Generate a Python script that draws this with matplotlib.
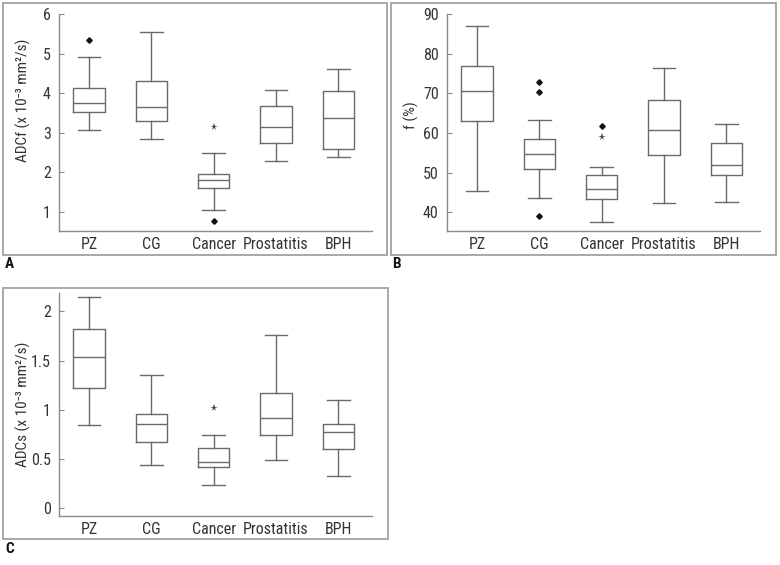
import matplotlib
matplotlib.use("Agg")
import matplotlib.pyplot as plt
from matplotlib.patches import Rectangle
from matplotlib import font_manager

# ---------------- data ----------------
categories = ['PZ', 'CG', 'Cancer', 'Prostatitis', 'BPH']

# Panel A: ADCf
a_whislo = [3.07, 2.84, 1.04, 2.28, 2.38]
a_q1 = [3.52, 3.31, 1.61, 2.73, 2.60]
a_med = [3.74, 3.66, 1.80, 3.14, 3.37]
a_q3 = [4.12, 4.31, 1.97, 3.67, 4.05]
a_whishi = [4.91, 5.55, 2.48, 4.08, 4.61]
a_dot_pos = [1, 3]
a_dot_val = [5.35, 0.78]
a_star_pos = [3]
a_star_val = [3.15]
a_ticks = [1, 2, 3, 4, 5, 6]
a_ylabel = 'ADCf (x 10\u207b\u00b3 mm\u00b2/s)'

# Panel B: f (%)
b_whislo = [45.5, 43.5, 37.6, 42.4, 42.6]
b_q1 = [63.1, 51.0, 43.4, 54.5, 49.3]
b_med = [70.7, 54.8, 45.9, 60.8, 51.9]
b_q3 = [76.8, 58.4, 49.3, 68.2, 57.5]
b_whishi = [87.0, 63.2, 51.4, 76.3, 62.3]
b_dot_pos = [2, 2, 2, 3]
b_dot_val = [72.8, 70.3, 39.1, 61.7]
b_star_pos = [3]
b_star_val = [58.9]
b_ticks = [40, 50, 60, 70, 80, 90]
b_ylabel = 'f (%)'

# Panel C: ADCs
c_whislo = [0.847, 0.444, 0.234, 0.488, 0.329]
c_q1 = [1.224, 0.671, 0.417, 0.742, 0.607]
c_med = [1.536, 0.854, 0.468, 0.919, 0.773]
c_q3 = [1.82, 0.953, 0.617, 1.173, 0.854]
c_whishi = [2.15, 1.356, 0.742, 1.763, 1.098]
c_dot_pos = []
c_dot_val = []
c_star_pos = [3]
c_star_val = [1.017]
c_ticks = [0, 0.5, 1, 1.5, 2]
c_ticklabels = ['0', '0.5', '1', '1.5', '2']
c_ylabel = 'ADCs (x 10\u207b\u00b3 mm\u00b2/s)'

# ---------------- style ----------------
installed = {f.name for f in font_manager.fontManager.ttflist}
fam = [f for f in ['Liberation Sans Narrow', 'Roboto Condensed', 'Roboto',
                   'DejaVu Sans'] if f in installed]
if 'DejaVu Sans' not in fam:
    fam.append('DejaVu Sans')
plt.rcParams['font.family'] = fam

W, H = 780, 565
fig = plt.figure(figsize=(W / 100, H / 100), dpi=100)

LINE = '#6a6a6a'
TXT = '#333333'
TICKSIZE = 11.5
LABELSIZE = 11.0


def fx(px):
    return px / W


def fy(py):
    return 1 - py / H


def panel(rect, whislo, q1, med, q3, whishi, dpos, dval, spos, sval,
          ticks, ylim, ylabel, label_y, ticklabels=None):
    ax = fig.add_axes(rect)
    stats = []
    for i in range(len(categories)):
        stats.append(dict(whislo=whislo[i], q1=q1[i], med=med[i], q3=q3[i],
                          whishi=whishi[i], fliers=[]))
    lp = dict(color=LINE, linewidth=1.0)
    ax.bxp(stats, positions=range(1, len(categories) + 1), widths=0.5,
           capwidths=0.36, showfliers=False,
           boxprops=lp, whiskerprops=lp, capprops=lp,
           medianprops=dict(color=LINE, linewidth=1.0))
    if dpos:
        ax.plot(dpos, dval, linestyle='none', marker='D', markersize=2.8,
                color='#111111')
    if spos:
        ax.plot(spos, sval, linestyle='none', marker='*', markersize=5.5,
                color='#444444', markeredgewidth=0)
    ax.set_xlim(0.52, 5.54)
    ax.set_ylim(*ylim)
    ax.set_xticks(range(1, len(categories) + 1))
    ax.set_xticklabels(categories)
    ax.set_yticks(ticks)
    if ticklabels is not None:
        ax.set_yticklabels(ticklabels)
    for s in ['top', 'right']:
        ax.spines[s].set_visible(False)
    for s in ['left', 'bottom']:
        ax.spines[s].set_color('#8a8a8a')
        ax.spines[s].set_linewidth(1.0)
    ax.tick_params(axis='x', length=0, pad=4, labelsize=TICKSIZE, colors=TXT)
    ax.tick_params(axis='y', direction='in', length=3.5, width=0.8,
                   color='#8a8a8a', pad=6, labelsize=TICKSIZE, labelcolor=TXT)
    ax.set_ylabel(ylabel, fontsize=LABELSIZE, color=TXT)
    ax.yaxis.set_label_coords(-0.088, label_y)
    ax.patch.set_visible(False)
    return ax


# axes rectangles (figure fractions)
axw = fx(372 - 59)
rA = [fx(59), fy(231), axw, (231 - 14) / H]
rB = [fx(447), fy(231), fx(760 - 447), (231 - 14) / H]
rC = [fx(59), fy(516), axw, (516 - 292.7) / H]

panel(rA, a_whislo, a_q1, a_med, a_q3, a_whishi, a_dot_pos, a_dot_val,
      a_star_pos, a_star_val, a_ticks, (0.52, 6.0), a_ylabel, 0.60)
panel(rB, b_whislo, b_q1, b_med, b_q3, b_whishi, b_dot_pos, b_dot_val,
      b_star_pos, b_star_val, b_ticks, (35.3, 90.0), b_ylabel, 0.535)
panel(rC, c_whislo, c_q1, c_med, c_q3, c_whishi, c_dot_pos, c_dot_val,
      c_star_pos, c_star_val, c_ticks, (-0.078, 2.19), c_ylabel, 0.50,
      c_ticklabels)

# panel frames
for (x0, y0, x1, y1) in [(3, 3, 387, 255), (391, 3, 776, 255), (3, 288, 388, 539)]:
    fig.add_artist(Rectangle((fx(x0), fy(y1)), fx(x1 - x0), (y1 - y0) / H,
                             transform=fig.transFigure, fill=False,
                             edgecolor='#a8a8a8', linewidth=1.4))

# panel letters
for lab, x, y in [('A', 5, 264), ('B', 392, 264), ('C', 5, 549)]:
    fig.text(fx(x), fy(y), lab, fontsize=11, fontweight='bold', color='#111111',
             ha='left', va='center')

fig.savefig('out.png', dpi=100)
